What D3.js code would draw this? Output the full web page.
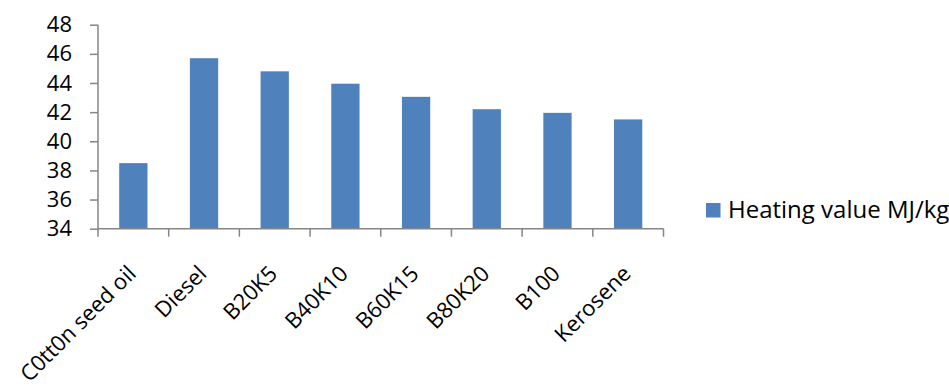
<!DOCTYPE html>
<html><head><meta charset="utf-8">
<script src="https://cdn.jsdelivr.net/npm/d3@7"></script>
<style>body{margin:0;background:#fff}svg{display:block}text{font-family:"Open Sans",sans-serif;fill:#000}</style>
</head><body>
<script>
const categories = ["C0tt0n seed oil","Diesel","B20K5","B40K10","B60K15","B80K20","B100","Kerosene"];
const values = [38.5,45.7,44.8,43.95,43.05,42.2,41.95,41.5];
const yTicks = [34,36,38,40,42,44,46,48];
const seriesName = "Heating value MJ/kg";

const W=949,H=387;
const svg=d3.select("body").append("svg").attr("width",W).attr("height",H);
const x=d3.scaleBand().domain(categories).range([98,663.5]);
const y=d3.scaleLinear().domain([34,48]).range([228.7,24.7]);
const axisColor="#868686";

// bars
const bw=x.bandwidth()*0.4;
svg.selectAll("rect.bar").data(values).enter().append("rect")
  .attr("x",(d,i)=>x(categories[i])+x.bandwidth()/2-bw/2)
  .attr("y",d=>y(d)).attr("width",bw).attr("height",d=>y(34)-y(d))
  .attr("fill","#4F81BD");

// y axis
const ya=svg.append("g").attr("transform","translate(98,0)")
  .call(d3.axisLeft(y).tickValues(yTicks).tickSize(8).tickPadding(18).tickFormat(d3.format("d")));
ya.select(".domain").attr("stroke",axisColor).attr("stroke-width",1.5).attr("d","M0,24.7V228.7");
ya.selectAll(".tick line").attr("stroke",axisColor).attr("stroke-width",1.5);
ya.selectAll(".tick text").style("font-size","22px").attr("fill","#000");

// x axis
const xa=svg.append("g").attr("transform","translate(0,228.7)");
xa.append("line").attr("x1",98).attr("x2",663.5).attr("stroke",axisColor).attr("stroke-width",1.5);
const bounds=categories.map(c=>x(c)).concat([x.range()[1]]);
xa.selectAll("line.t").data(bounds).enter().append("line")
  .attr("x1",d=>d).attr("x2",d=>d).attr("y1",0).attr("y2",8)
  .attr("stroke",axisColor).attr("stroke-width",1.5);
svg.selectAll("text.lbl").data(categories).enter().append("text")
  .attr("transform",d=>`translate(${x(d)+x.bandwidth()/2+4},275) rotate(-45)`)
  .attr("text-anchor","end").style("font-size","22px").text(d=>d);

// legend
svg.append("rect").attr("x",706).attr("y",203).attr("width",14.5).attr("height",14.5).attr("fill","#4F81BD");
svg.append("text").attr("x",728).attr("y",218).style("font-size","24px").text(seriesName);
</script>
</body></html>
